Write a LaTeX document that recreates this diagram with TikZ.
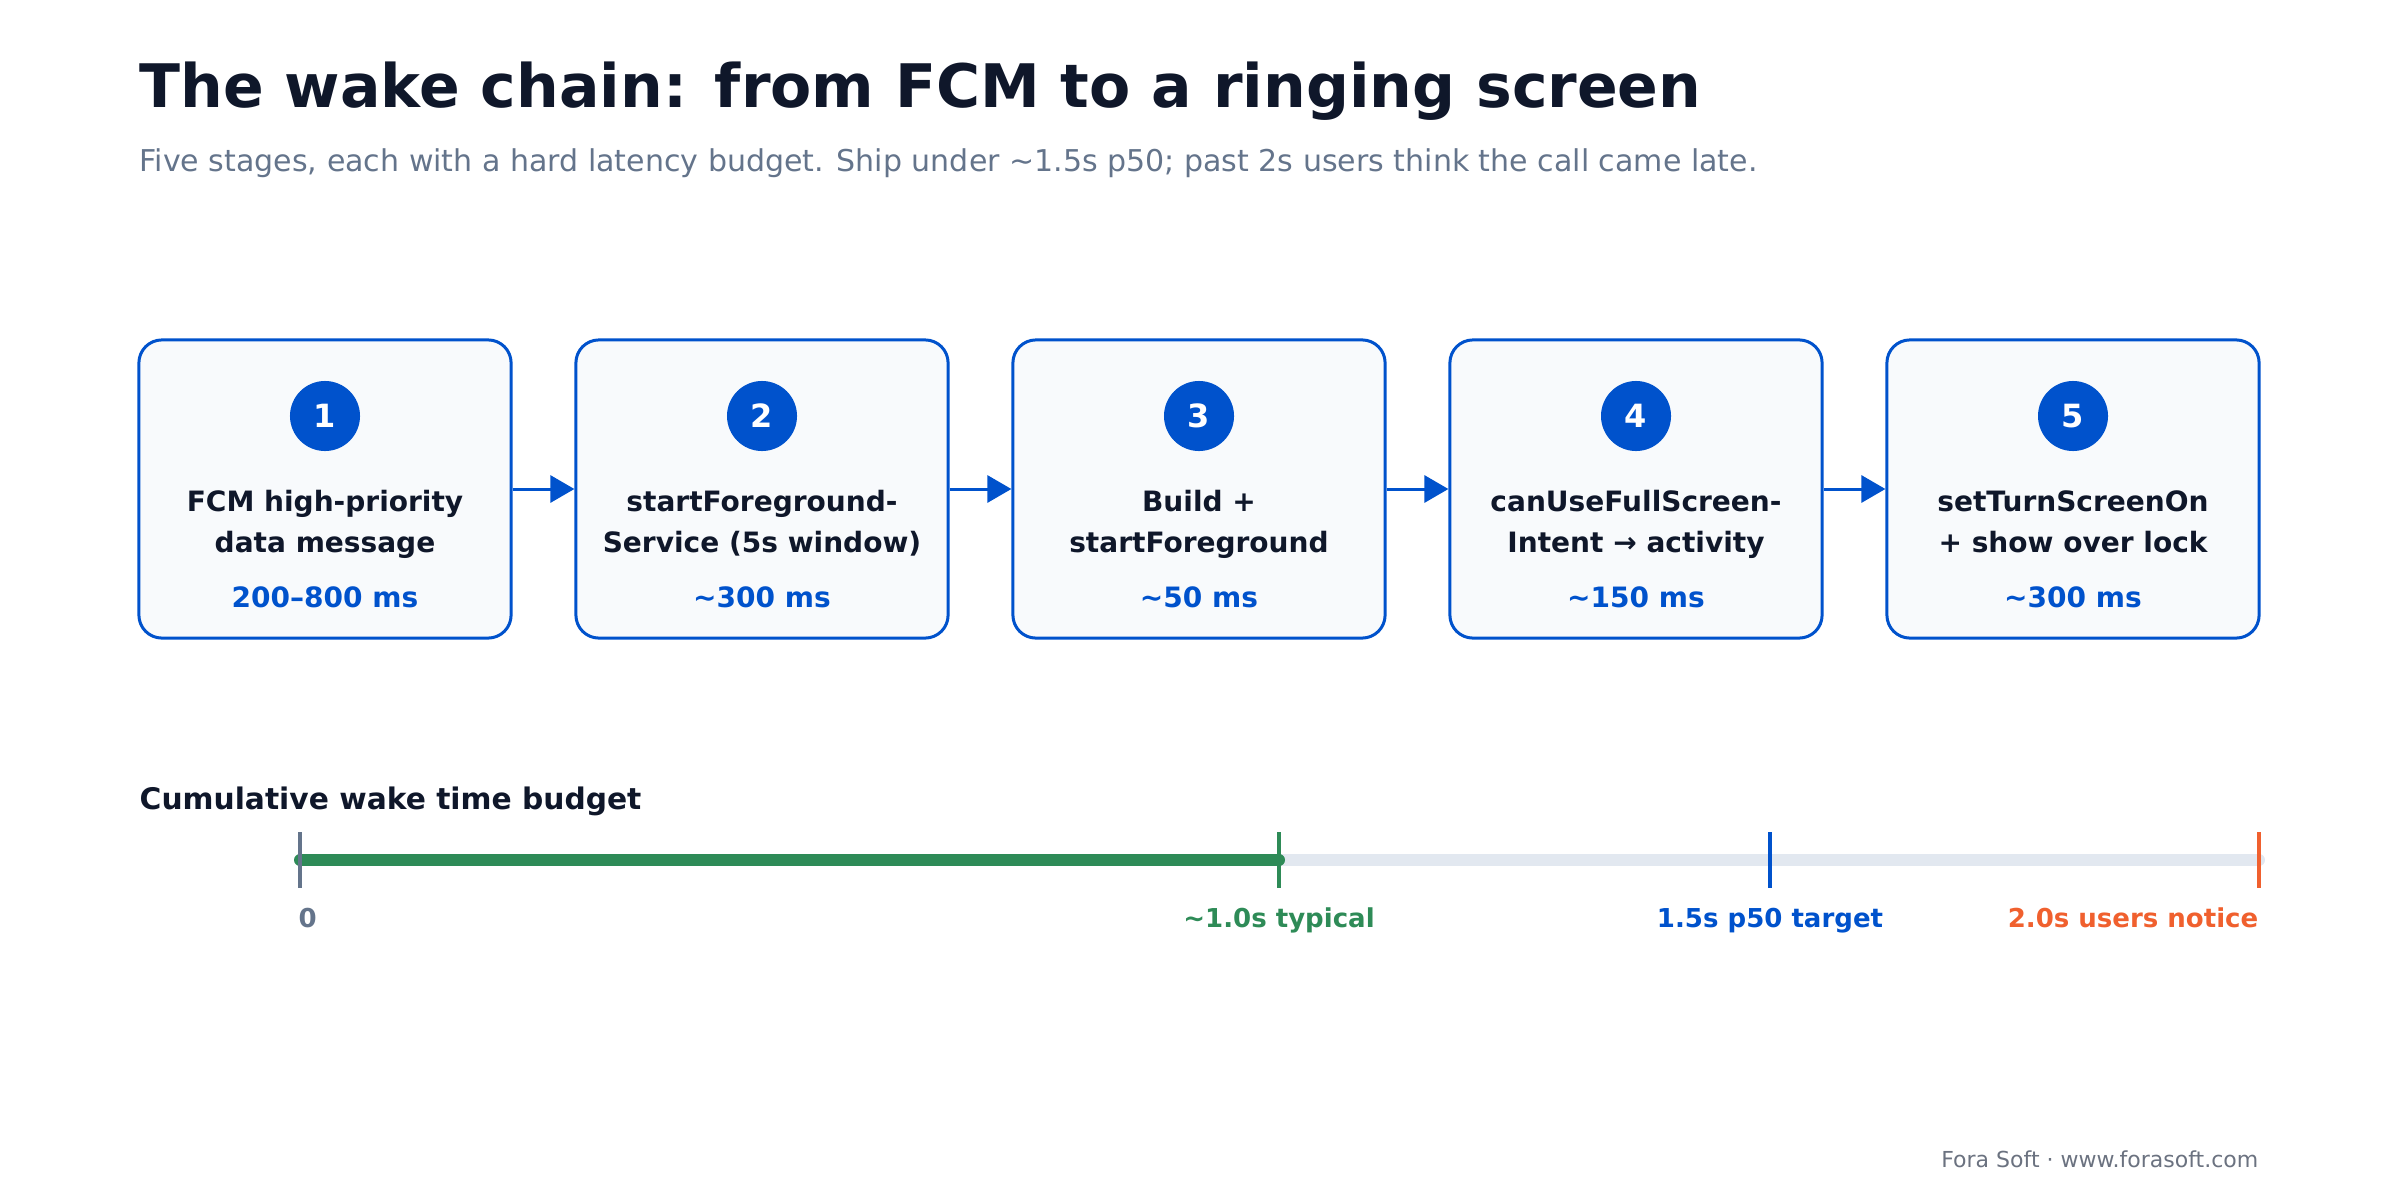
\documentclass[tikz,border=0pt]{standalone}
\usepackage{fontspec}
\setmainfont{DejaVu Sans}
\usetikzlibrary{arrows.meta}

\definecolor{ink}{HTML}{0F172A}
\definecolor{slate}{HTML}{64748B}
\definecolor{wakeblue}{HTML}{0052CC}
\definecolor{boxfill}{HTML}{F8FAFC}
\definecolor{track}{HTML}{E2E8F0}
\definecolor{typical}{HTML}{2E8B57}
\definecolor{notice}{HTML}{F0602E}
\definecolor{footgrey}{HTML}{6B7280}

\begin{document}
\begin{tikzpicture}[x=0.01cm,y=-0.01cm]
\useasboundingbox (0,0) rectangle (2400,1200);

\begin{scope}[every node/.style={inner sep=0pt}]
	\node[anchor=base west,text=ink,font=\bfseries\fontsize{17.07}{20}\selectfont] (title) at (139,107) {The wake chain: from FCM to a ringing screen};
	\node[anchor=base west,text=slate,font=\fontsize{8.54}{10}\selectfont] (subtitle) at (139,171) {Five stages, each with a hard latency budget. Ship under \textasciitilde1.5s p50; past 2s users think the call came late.};
\end{scope}

% the five stages
\begin{scope}[every node/.style={rectangle,rounded corners=0.23cm,draw=wakeblue,fill=boxfill,line width=0.03cm,minimum width=3.72cm,minimum height=2.98cm}]
	\node (stage1) at (325,489) {};
	\node (stage2) at (762,489) {};
	\node (stage3) at (1199,489) {};
	\node (stage4) at (1636,489) {};
	\node (stage5) at (2073,489) {};
\end{scope}

\begin{scope}[every node/.style={circle,fill=wakeblue,text=white,minimum size=0.70cm,inner sep=0pt,font=\bfseries\fontsize{9.1}{10}\selectfont}]
	\node (badge1) at (325,416) {1};
	\node (badge2) at (762,416) {2};
	\node (badge3) at (1199,416) {3};
	\node (badge4) at (1636,416) {4};
	\node (badge5) at (2073,416) {5};
\end{scope}

\begin{scope}[every node/.style={anchor=base,align=center,inner sep=0pt,text=ink,font=\bfseries\fontsize{7.97}{11.4}\selectfont}]
	\node (name1) at (325,552) {FCM high-priority\\data message};
	\node (name2) at (762,552) {startForeground-\\Service (5s window)};
	\node (name3) at (1199,552) {Build +\\startForeground};
	\node (name4) at (1636,552) {canUseFullScreen-\\Intent → activity};
	\node (name5) at (2073,552) {setTurnScreenOn\\+ show over lock};
\end{scope}

\begin{scope}[every node/.style={anchor=base,inner sep=0pt,text=wakeblue,font=\bfseries\fontsize{7.97}{10}\selectfont}]
	\node (time1) at (325,607) {200–800 ms};
	\node (time2) at (762,607) {\textasciitilde300 ms};
	\node (time3) at (1199,607) {\textasciitilde50 ms};
	\node (time4) at (1636,607) {\textasciitilde150 ms};
	\node (time5) at (2073,607) {\textasciitilde300 ms};
\end{scope}

\begin{scope}[draw=wakeblue,line width=0.03cm]
	\draw[-{Triangle[length=0.24cm,width=0.27cm]}] (stage1) -- (stage2);
	\draw[-{Triangle[length=0.24cm,width=0.27cm]}] (stage2) -- (stage3);
	\draw[-{Triangle[length=0.24cm,width=0.27cm]}] (stage3) -- (stage4);
	\draw[-{Triangle[length=0.24cm,width=0.27cm]}] (stage4) -- (stage5);
\end{scope}

% cumulative budget bar
\node[anchor=base west,inner sep=0pt,text=ink,font=\bfseries\fontsize{8.45}{10}\selectfont] (budget) at (139,809) {Cumulative wake time budget};

\coordinate (t0) at (300,860);
\coordinate (t10) at (1279,860);
\coordinate (t15) at (1770,860);
\coordinate (t20) at (2259,860);

\draw[track,line width=0.12cm,line cap=round] (t0) -- (t20);
\draw[typical,line width=0.12cm,line cap=round] (t0) -- (t10);

\draw[slate,line width=0.04cm] (t0) ++(0,-28) -- ++(0,56);
\draw[typical,line width=0.04cm] (t10) ++(0,-28) -- ++(0,56);
\draw[wakeblue,line width=0.04cm] (t15) ++(0,-28) -- ++(0,56);
\draw[notice,line width=0.04cm] (t20) ++(0,-28) -- ++(0,56);

\begin{scope}[every node/.style={inner sep=0pt,font=\bfseries\fontsize{7.4}{9}\selectfont}]
	\node[anchor=base west,text=slate] (lab0) at (298,927) {0};
	\node[anchor=base,text=typical] (lab10) at (1279,927) {\textasciitilde1.0s typical};
	\node[anchor=base,text=wakeblue] (lab15) at (1770,927) {1.5s p50 target};
	\node[anchor=base east,text=notice] (lab20) at (2259,927) {2.0s users notice};
\end{scope}

\node[anchor=base east,inner sep=0pt,text=footgrey,font=\fontsize{6.26}{8}\selectfont] (footer) at (2259,1167) {Fora Soft · www.forasoft.com};

\end{tikzpicture}
\end{document}
